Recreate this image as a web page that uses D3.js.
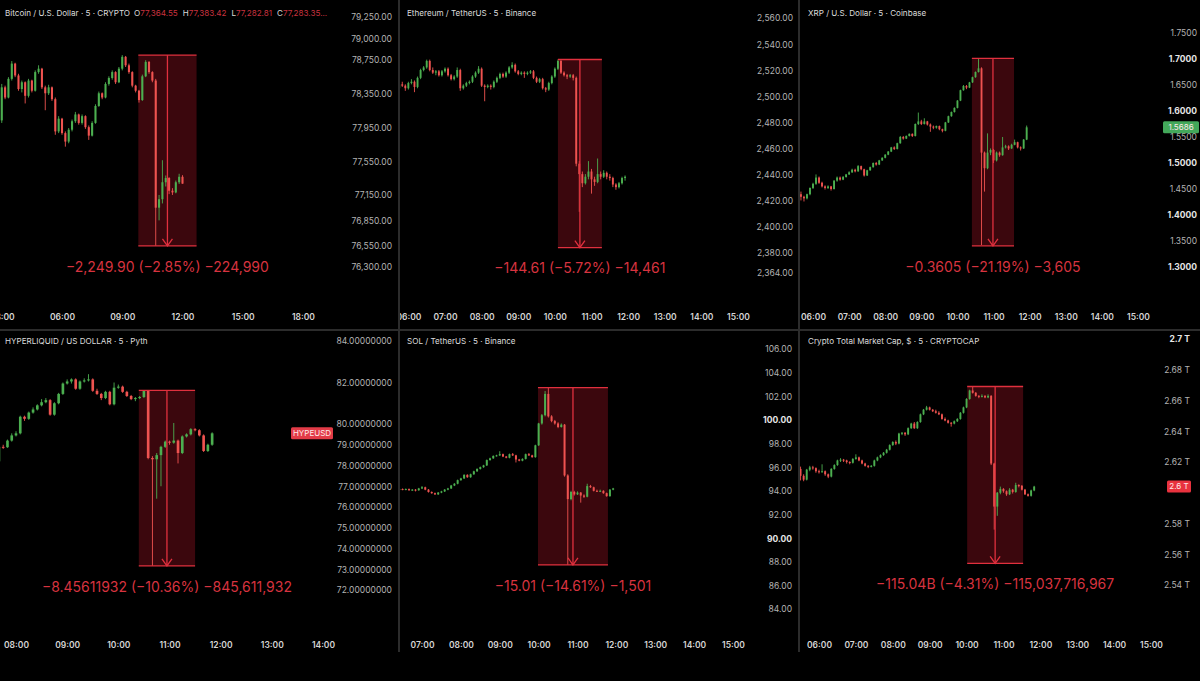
<!DOCTYPE html>
<html><head><meta charset="utf-8">
<script src="https://cdn.jsdelivr.net/npm/d3@7"></script>
<style>html,body{margin:0;padding:0;background:#000;overflow:hidden}svg{display:block}</style>
</head><body>
<script>
// ---------- DATA ----------
// candles: [open, high, low, close]
const btcTitle = "Bitcoin / U.S. Dollar · 5 · CRYPTO";
const btcStart = "03:00", btcStep = 10;
const btcCandles = [
[78030,78460,78000,78420],[78420,78440,78280,78300],[78300,78540,78290,78520],[78520,78730,78500,78700],
[78700,78710,78540,78560],[78560,78580,78380,78400],[78400,78500,78360,78480],[78480,78490,78230,78320],
[78320,78520,78300,78500],[78500,78510,78360,78380],[78380,78620,78370,78600],[78600,78680,78580,78640],
[78640,78650,78400,78420],[78420,78440,78150,78350],[78350,78450,78330,78420],[78420,78430,78260,78280],
[78280,78300,77860,77900],[77900,78080,77880,78050],[78050,78060,77860,77880],[77880,77900,77720,77780],
[77780,77940,77760,77920],[77920,78040,77900,78020],[78020,78130,78000,78100],[78100,78110,77980,78000],
[78000,78100,77980,78080],[78080,78090,77930,77950],[77950,77970,77800,77850],[77850,78020,77840,78000],
[78000,78220,77990,78200],[78200,78370,78190,78350],[78350,78360,78280,78300],[78300,78480,78290,78460],
[78460,78550,78440,78530],[78530,78620,78510,78600],[78600,78610,78460,78480],[78480,78660,78470,78640],
[78640,78800,78620,78780],[78780,78790,78660,78680],[78680,78700,78580,78600],[78600,78610,78420,78440],
[78440,78450,78360,78380],[78380,78390,78240,78270],[78270,78570,78260,78550],[78550,78740,78540,78720],
[78720,78730,78580,78600],[78600,78610,78480,78500],[78500,78520,76550,77000],[77000,77150,76850,77100],
[77100,77560,77050,77300],[77300,77380,77250,77350],[77350,77360,77160,77200],[77200,77230,77150,77180],
[77180,77320,77170,77300],[77300,77400,77280,77364.55],[77364.55,77383.42,77282.81,77283.35]];
const btcOHLC = ["77,364.55","77,383.42","77,282.81","77,283.35..."];
const btcYTicks = [79250,79000,78750,78350,77950,77550,77150,76850,76550,76300];
const btcXTicks = ["03:00","06:00","09:00","12:00","15:00","18:00"];
const btcRange = ["09:48","12:42",78800,76550.1];
const btcRangeLabel = "−2,249.90 (−2.85%) −224,990";

const ethTitle = "Ethereum / TetherUS · 5 · Binance";
const ethStart = "05:45", ethStep = 5;
const ethCandles = [
[2506,2510,2504,2509],[2509,2511,2507,2508],[2508,2509,2504,2506],[2506,2511,2505,2510],[2510,2513,2509,2511],
[2511,2512,2503,2507],[2507,2515,2506,2514],[2514,2521,2513,2520],[2520,2523,2519,2522],[2522,2528,2521,2527],
[2527,2528,2519,2520],[2520,2522,2517,2518],[2518,2520,2516,2519],[2519,2520,2515,2516],[2516,2520,2515,2519],
[2519,2522,2518,2521],[2521,2522,2515,2516],[2516,2517,2512,2513],[2513,2516,2512,2515],[2515,2522,2514,2520],
[2520,2521,2504,2506],[2506,2509,2505,2508],[2508,2511,2507,2510],[2510,2512,2509,2511],[2511,2516,2510,2515],
[2515,2519,2514,2518],[2518,2523,2517,2521],[2521,2522,2507,2508],[2508,2509,2496,2507],[2507,2509,2506,2508],
[2508,2509,2505,2507],[2507,2512,2506,2511],[2511,2515,2510,2514],[2514,2518,2513,2517],[2517,2518,2514,2515],
[2515,2519,2514,2518],[2518,2523,2517,2522],[2522,2526,2521,2524],[2524,2525,2518,2519],[2519,2520,2516,2517],
[2517,2519,2516,2518],[2518,2519,2514,2517],[2517,2519,2516,2518],[2518,2520,2517,2519],[2519,2520,2513,2514],
[2514,2515,2510,2511],[2511,2514,2510,2513],[2513,2514,2505,2506],[2506,2507,2503,2505],[2505,2511,2504,2510],
[2510,2516,2509,2515],[2515,2522,2514,2521],[2521,2528.1,2520,2527],[2527,2528,2517,2518],[2518,2519,2515,2516],
[2516,2517,2513,2515],[2515,2517,2514,2516],[2516,2517,2512,2514],[2514,2515,2446,2448],[2448,2450,2411,2440],
[2440,2442,2430,2433],[2433,2440,2432,2438],[2438,2450,2436,2442],[2442,2444,2425,2436],[2436,2438,2431,2434],
[2434,2452,2433,2440],[2440,2442,2436,2438],[2438,2443,2437,2441],[2441,2442,2436,2438],[2438,2440,2435,2437],
[2437,2438,2430,2432],[2432,2433,2428,2430],[2430,2434,2429,2433],[2433,2438,2432,2437],[2437,2439,2435,2438]];
const ethYTicks = [2560,2540,2520,2500,2480,2460,2440,2420,2400,2380,2364];
const ethXTicks = ["06:00","07:00","08:00","09:00","10:00","11:00","12:00","13:00","14:00","15:00"];
const ethRange = ["10:05","11:17",2528.1,2383.49];
const ethRangeLabel = "−144.61 (−5.72%) −14,461";

const xrpTitle = "XRP / U.S. Dollar · 5 · Coinbase";
const xrpStart = "05:40", xrpStep = 5;
const xrpCandles = [
[1.440,1.445,1.428,1.435],[1.435,1.437,1.426,1.432],[1.432,1.441,1.430,1.440],[1.440,1.453,1.438,1.452],
[1.452,1.462,1.450,1.460],[1.460,1.478,1.458,1.472],[1.472,1.474,1.460,1.462],[1.462,1.464,1.453,1.455],
[1.455,1.457,1.449,1.452],[1.452,1.457,1.450,1.455],[1.455,1.456,1.447,1.450],[1.450,1.467,1.449,1.466],
[1.466,1.474,1.464,1.472],[1.472,1.474,1.466,1.468],[1.468,1.475,1.467,1.473],[1.473,1.479,1.472,1.478],
[1.478,1.484,1.477,1.482],[1.482,1.489,1.481,1.487],[1.487,1.489,1.482,1.484],[1.484,1.496,1.483,1.494],
[1.494,1.495,1.486,1.488],[1.488,1.489,1.474,1.476],[1.476,1.487,1.475,1.486],[1.486,1.493,1.485,1.492],
[1.492,1.501,1.491,1.500],[1.500,1.502,1.495,1.497],[1.497,1.506,1.496,1.505],[1.505,1.511,1.504,1.510],
[1.510,1.517,1.509,1.516],[1.516,1.523,1.515,1.522],[1.522,1.531,1.521,1.530],[1.530,1.532,1.525,1.527],
[1.527,1.539,1.526,1.538],[1.538,1.552,1.537,1.550],[1.550,1.552,1.545,1.547],[1.547,1.553,1.546,1.552],
[1.552,1.557,1.551,1.556],[1.556,1.557,1.550,1.552],[1.552,1.576,1.551,1.575],[1.575,1.597,1.573,1.580],
[1.580,1.583,1.573,1.575],[1.575,1.586,1.574,1.580],[1.580,1.581,1.572,1.574],[1.574,1.576,1.560,1.570],
[1.570,1.572,1.565,1.568],[1.568,1.572,1.566,1.571],[1.571,1.572,1.563,1.565],[1.565,1.566,1.559,1.562],
[1.562,1.579,1.561,1.578],[1.578,1.591,1.577,1.590],[1.590,1.599,1.589,1.598],[1.598,1.607,1.597,1.606],
[1.606,1.621,1.605,1.620],[1.620,1.641,1.619,1.640],[1.640,1.650,1.639,1.648],[1.648,1.650,1.642,1.645],
[1.645,1.656,1.644,1.655],[1.655,1.666,1.654,1.665],[1.665,1.676,1.664,1.675],[1.675,1.7013,1.674,1.682],
[1.682,1.684,1.342,1.520],[1.520,1.522,1.445,1.490],[1.490,1.557,1.488,1.520],[1.520,1.528,1.515,1.525],
[1.525,1.527,1.500,1.505],[1.505,1.522,1.503,1.520],[1.520,1.522,1.512,1.515],[1.515,1.550,1.514,1.530],
[1.530,1.535,1.528,1.532],[1.532,1.534,1.525,1.528],[1.528,1.537,1.527,1.535],[1.535,1.545,1.534,1.540],
[1.540,1.541,1.528,1.530],[1.530,1.532,1.524,1.528],[1.528,1.546,1.527,1.545],[1.545,1.572,1.544,1.5686]];
const xrpYTicks = [1.75,1.70,1.65,1.60,1.55,1.50,1.45,1.40,1.35,1.30];
const xrpBold = [1.70,1.60,1.50,1.40,1.30];
const xrpXTicks = ["06:00","07:00","08:00","09:00","10:00","11:00","12:00","13:00","14:00","15:00"];
const xrpRange = ["10:24","11:34",1.7013,1.3408];
const xrpRangeLabel = "−0.3605 (−21.19%) −3,605";

const hypeTitle = "HYPERLIQUID / US DOLLAR · 5 · Pyth";
const hypeStart = "07:40", hypeStep = 5;
const hypeCandles = [
[78.20,78.95,77.60,78.90],[78.90,79.00,78.80,78.88],[78.88,79.25,78.85,79.20],[79.20,79.55,79.15,79.45],
[79.45,79.65,79.40,79.55],[79.55,80.40,79.50,80.35],[80.35,80.40,80.15,80.25],[80.25,80.60,80.20,80.55],
[80.55,80.80,80.50,80.70],[80.70,80.95,80.65,80.90],[80.90,81.20,80.85,81.05],[81.05,81.25,81.00,81.15],
[81.15,81.20,80.40,80.45],[80.45,81.05,80.40,81.00],[81.00,81.50,80.95,81.45],[81.45,82.00,81.40,81.95],
[81.95,82.15,81.90,82.05],[82.05,82.20,81.95,82.15],[82.15,82.20,81.65,81.70],[81.70,82.10,81.65,82.05],
[82.05,82.20,82.00,82.10],[82.10,82.40,82.05,82.15],[82.15,82.20,81.55,81.60],[81.60,81.70,81.40,81.45],
[81.45,81.50,81.15,81.25],[81.25,81.60,81.20,81.55],[81.55,81.60,80.90,80.95],[80.95,82.00,80.90,81.75],
[81.75,81.90,81.70,81.80],[81.80,81.85,81.50,81.55],[81.55,81.60,81.30,81.35],[81.35,81.40,81.15,81.20],
[81.20,81.30,81.10,81.25],[81.25,81.35,81.20,81.30],[81.30,81.62,81.25,81.60],[81.60,81.62,78.30,78.36],
[78.36,78.45,73.16,78.30],[78.30,78.60,76.40,78.50],[78.50,78.95,77.00,78.90],[78.90,79.20,78.85,79.15],
[79.15,79.20,79.00,79.10],[79.10,80.05,79.05,79.20],[79.20,79.25,78.10,78.60],[78.60,79.45,78.55,79.40],
[79.40,79.55,79.35,79.50],[79.50,79.80,79.45,79.75],[79.75,79.80,79.65,79.70],[79.70,79.75,79.40,79.45],
[79.45,79.50,78.65,78.70],[78.70,79.05,78.65,79.00],[79.00,79.60,78.95,79.55]];
const hypeYTicks = [84,82,80,79,78,77,76,75,74,73,72];
const hypeXTicks = ["08:00","09:00","10:00","11:00","12:00","13:00","14:00"];
const hypeRange = ["10:24","11:30",81.62,73.16388068];
const hypeRangeLabel = "−8.45611932 (−10.36%) −845,611,932";
const hypeTag = "HYPEUSD";

const solTitle = "SOL / TetherUS · 5 · Binance";
const solStart = "06:25", solStep = 5;
const solCandles = [
[94.10,94.20,94.00,94.15],[94.15,94.20,94.05,94.10],[94.10,94.20,94.05,94.15],[94.15,94.20,94.00,94.05],
[94.05,94.15,94.00,94.10],[94.10,94.15,93.95,94.05],[94.05,94.25,94.00,94.20],[94.20,94.40,94.15,94.30],
[94.30,94.35,94.05,94.10],[94.10,94.15,93.85,93.90],[93.90,93.95,93.75,93.80],[93.80,93.85,93.65,93.70],
[93.70,93.90,93.65,93.85],[93.85,94.00,93.80,93.95],[93.95,94.15,93.90,94.10],[94.10,94.25,94.05,94.20],
[94.20,94.50,94.15,94.45],[94.45,94.65,94.40,94.60],[94.60,94.95,94.55,94.90],[94.90,95.10,94.85,95.05],
[95.05,95.40,95.00,95.35],[95.35,95.40,95.10,95.15],[95.15,95.45,95.10,95.40],[95.40,95.70,95.35,95.65],
[95.65,95.90,95.60,95.85],[95.85,96.05,95.80,96.00],[96.00,96.20,95.95,96.15],[96.15,96.65,96.10,96.60],
[96.60,96.80,96.55,96.75],[96.75,97.00,96.70,96.95],[96.95,97.05,96.90,97.00],[97.00,97.35,96.95,97.10],
[97.10,97.15,96.85,96.90],[96.90,96.95,96.75,96.80],[96.80,97.15,96.75,97.10],[97.10,97.20,96.95,97.00],
[97.00,97.05,96.40,96.65],[96.65,96.70,96.50,96.55],[96.55,96.75,96.50,96.70],[96.70,97.15,96.65,97.10],
[97.10,97.20,96.95,97.00],[97.00,97.05,96.80,96.85],[96.85,97.90,96.80,97.85],[97.85,99.75,97.80,99.70],
[99.70,100.50,99.60,100.40],[100.40,102.45,100.30,102.20],[102.20,102.74,100.20,100.30],[100.30,100.40,99.80,99.90],
[99.90,100.00,99.60,99.70],[99.70,99.80,99.30,99.40],[99.40,99.70,99.35,99.60],[99.60,99.65,95.20,95.30],
[95.30,95.40,87.73,93.30],[93.30,94.00,93.20,93.90],[93.90,94.00,93.60,93.70],[93.70,93.95,93.65,93.85],
[93.85,93.90,93.00,93.60],[93.60,93.70,93.40,93.50],[93.50,94.60,93.45,94.40],[94.40,94.50,94.25,94.30],
[94.30,94.35,93.95,94.00],[94.00,94.10,93.90,93.95],[93.95,94.10,93.90,94.00],[94.00,94.05,93.75,93.80],
[93.80,93.85,93.50,93.55],[93.55,94.15,93.50,94.10],[94.10,94.25,94.05,94.20]];
const solYTicks = [106,104,102,100,98,96,94,92,90,88,86,84];
const solBold = [100,90];
const solXTicks = ["07:00","08:00","09:00","10:00","11:00","12:00","13:00","14:00","15:00"];
const solRange = ["09:59","11:47",102.74,87.73];
const solRangeLabel = "−15.01 (−14.61%) −1,501";

const capTitle = "Crypto Total Market Cap, $ · 5 · CRYPTOCAP";
const capStart = "05:30", capStep = 5;
// values in trillions of USD
const capCandles = [
[2.6155,2.6170,2.6080,2.6110],[2.6110,2.6120,2.6075,2.6085],[2.6085,2.6155,2.6080,2.6150],[2.6150,2.6175,2.6140,2.6165],
[2.6165,2.6175,2.6150,2.6160],[2.6160,2.6165,2.6130,2.6140],[2.6140,2.6150,2.6125,2.6135],[2.6135,2.6185,2.6130,2.6140],
[2.6140,2.6145,2.6110,2.6120],[2.6120,2.6125,2.6095,2.6105],[2.6105,2.6160,2.6100,2.6155],[2.6155,2.6185,2.6150,2.6180],
[2.6180,2.6215,2.6175,2.6210],[2.6210,2.6225,2.6200,2.6215],[2.6215,2.6220,2.6200,2.6210],[2.6210,2.6215,2.6190,2.6200],
[2.6200,2.6205,2.6185,2.6195],[2.6195,2.6225,2.6190,2.6220],[2.6220,2.6250,2.6215,2.6230],[2.6230,2.6235,2.6205,2.6210],
[2.6210,2.6215,2.6185,2.6190],[2.6190,2.6195,2.6170,2.6175],[2.6175,2.6180,2.6160,2.6170],[2.6170,2.6180,2.6165,2.6175],
[2.6175,2.6215,2.6170,2.6210],[2.6210,2.6235,2.6205,2.6230],[2.6230,2.6250,2.6225,2.6245],[2.6245,2.6265,2.6240,2.6260],
[2.6260,2.6285,2.6255,2.6280],[2.6280,2.6315,2.6275,2.6310],[2.6310,2.6335,2.6305,2.6330],[2.6330,2.6340,2.6310,2.6320],
[2.6320,2.6390,2.6315,2.6385],[2.6385,2.6395,2.6375,2.6390],[2.6390,2.6395,2.6370,2.6380],[2.6380,2.6425,2.6375,2.6420],
[2.6420,2.6455,2.6415,2.6450],[2.6450,2.6460,2.6415,2.6420],[2.6420,2.6465,2.6415,2.6460],[2.6460,2.6515,2.6455,2.6510],
[2.6510,2.6545,2.6505,2.6540],[2.6540,2.6565,2.6535,2.6555],[2.6555,2.6560,2.6535,2.6540],[2.6540,2.6545,2.6525,2.6530],
[2.6530,2.6540,2.6515,2.6520],[2.6520,2.6530,2.6505,2.6510],[2.6510,2.6515,2.6475,2.6480],[2.6480,2.6490,2.6465,2.6470],
[2.6470,2.6475,2.6450,2.6455],[2.6455,2.6460,2.6430,2.6450],[2.6450,2.6470,2.6445,2.6465],[2.6465,2.6485,2.6460,2.6480],
[2.6480,2.6525,2.6475,2.6520],[2.6520,2.6560,2.6515,2.6555],[2.6555,2.6615,2.6550,2.6610],[2.6610,2.6670,2.6605,2.6665],
[2.6665,2.6691,2.6645,2.6650],[2.6650,2.6655,2.6625,2.6630],[2.6630,2.6635,2.6615,2.6625],[2.6625,2.6640,2.6620,2.6630],
[2.6630,2.6635,2.6615,2.6620],[2.6620,2.6640,2.6615,2.6630],[2.6630,2.6635,2.6180,2.6190],[2.6190,2.6195,2.5760,2.5910],
[2.5910,2.6005,2.5850,2.6000],[2.6000,2.6040,2.5990,2.6025],[2.6025,2.6030,2.6000,2.6010],[2.6010,2.6015,2.5980,2.5990],
[2.5990,2.6030,2.5985,2.6020],[2.6020,2.6025,2.5995,2.6005],[2.6005,2.6065,2.6000,2.6050],[2.6050,2.6055,2.6035,2.6045],
[2.6045,2.6050,2.6015,2.6020],[2.6020,2.6025,2.5985,2.5990],[2.5990,2.5995,2.5975,2.5980],[2.5980,2.6020,2.5975,2.6015],
[2.6015,2.6045,2.6010,2.6040]];
const capYTicks = [2.70,2.68,2.66,2.64,2.62,2.58,2.56,2.54];
const capBold = [2.70];
const capXTicks = ["06:00","07:00","08:00","09:00","10:00","11:00","12:00","13:00","14:00","15:00"];
const capRange = ["10:01","11:32",2.6691,2.5541];
const capRangeLabel = "−115.04B (−4.31%) −115,037,716,967";
const capTag = "2.6 T";

// ---------- LAYOUT ----------
const W = 1200, H = 681;
const GREEN = "#4caf50", RED = "#ef5350";
const FONT = "Inter, 'Noto Sans', Roboto, sans-serif";
const hm = s => { const [h, m] = s.split(":").map(Number); return h + m / 60; };
const fmtHM = v => { const h = Math.floor(v + 1e-6), m = Math.round((v - h) * 60); return d3.format("02d")(h) + ":" + d3.format("02d")(m); };
const capFmt = v => (+v.toFixed(2)) + " T";

const panels = [
  {title: btcTitle, candles: btcCandles, start: btcStart, step: btcStep, yTicks: btcYTicks, bold: [], fmt: d3.format(",.2f"),
   xTicks: btcXTicks, range: btcRange, rangeLabel: btcRangeLabel,
   clip: [0, 0, 398, 329], xDom: [6, 18], xR: [62, 303], yR: [17, 267], axisX: 392, labelY: 317, titleXY: [5, 13]},
  {title: ethTitle, candles: ethCandles, start: ethStart, step: ethStep, yTicks: ethYTicks, bold: [], fmt: d3.format(",.2f"),
   xTicks: ethXTicks, range: ethRange, rangeLabel: ethRangeLabel,
   clip: [400, 0, 398, 329], xDom: [7, 15], xR: [445, 738], yR: [18, 273], axisX: 793, labelY: 317, titleXY: [407, 13]},
  {title: xrpTitle, candles: xrpCandles, start: xrpStart, step: xrpStep, yTicks: xrpYTicks, bold: xrpBold, fmt: d3.format(".4f"),
   xTicks: xrpXTicks, range: xrpRange, rangeLabel: xrpRangeLabel,
   clip: [800, 0, 400, 329], xDom: [6, 15], xR: [813, 1138], yR: [33, 267], axisX: 1197, labelY: 317, titleXY: [808, 13],
   tag: {text: d3.format(".4f")(xrpCandles[xrpCandles.length - 1][3]), fill: "#43a85a", x: 1163, w: 36}},
  {title: hypeTitle, candles: hypeCandles, start: hypeStart, step: hypeStep, yTicks: hypeYTicks, bold: [], fmt: d3.format(".8f"),
   xTicks: hypeXTicks, range: hypeRange, rangeLabel: hypeRangeLabel,
   clip: [0, 331, 398, 321], xDom: [8, 14], xR: [16, 323], yR: [341, 590], axisX: 392, labelY: 645, titleXY: [5, 341],
   tag: {text: hypeTag, fill: "#e23b47", x: 291, w: 42}},
  {title: solTitle, candles: solCandles, start: solStart, step: solStep, yTicks: solYTicks, bold: solBold, fmt: d3.format(".2f"),
   xTicks: solXTicks, range: solRange, rangeLabel: solRangeLabel,
   clip: [400, 331, 398, 321], xDom: [7, 15], xR: [422, 733], yR: [349, 609], axisX: 792, labelY: 645, titleXY: [407, 341]},
  {title: capTitle, candles: capCandles, start: capStart, step: capStep, yTicks: capYTicks, bold: capBold, fmt: capFmt,
   xTicks: capXTicks, range: capRange, rangeLabel: capRangeLabel,
   clip: [800, 331, 400, 321], xDom: [6, 15], xR: [819, 1151], yR: [339, 585], axisX: 1190, labelY: 645, titleXY: [808, 341],
   tag: {text: capTag, fill: "#e8323e", x: 1167, w: 24}}
];

const svg = d3.select("body").append("svg").attr("width", W).attr("height", H)
  .style("background", "#000").attr("font-family", FONT);
svg.append("rect").attr("width", W).attr("height", H).attr("fill", "#000");

const titleNodes = [];
panels.forEach((p, k) => {
  const [cx, cy, cw, ch] = p.clip;
  const clipId = "clip" + k;
  svg.append("clipPath").attr("id", clipId).append("rect").attr("x", cx).attr("y", cy).attr("width", cw).attr("height", ch);
  const g = svg.append("g").attr("clip-path", `url(#${clipId})`);

  const x = d3.scaleLinear().domain(p.xDom).range(p.xR);
  const y = d3.scaleLinear().domain([d3.max(p.yTicks), d3.min(p.yTicks)]).range(p.yR);
  const t0 = hm(p.start), dt = p.step / 60;
  const data = p.candles.map((d, i) => ({t: t0 + i * dt, o: d[0], h: d[1], l: d[2], c: d[3]}));
  const spacing = x(t0 + dt) - x(t0);
  const bodyW = Math.max(1.2, spacing * 0.62);

  // range box fill
  const r = p.range;
  const rx0 = x(hm(r[0])), rx1 = x(hm(r[1])), ryT = y(r[2]), ryB = y(r[3]);
  const rcx = (rx0 + rx1) / 2;
  g.append("rect").attr("x", rx0).attr("y", ryT).attr("width", rx1 - rx0).attr("height", ryB - ryT)
    .attr("fill", "#3b070d");

  // wicks
  g.append("g").selectAll("line").data(data).join("line")
    .attr("x1", d => x(d.t)).attr("x2", d => x(d.t))
    .attr("y1", d => y(d.h)).attr("y2", d => y(d.l))
    .attr("stroke", d => d.c >= d.o ? GREEN : RED).attr("stroke-width", 0.9);
  // bodies
  g.append("g").selectAll("rect").data(data).join("rect")
    .attr("x", d => x(d.t) - bodyW / 2).attr("width", bodyW)
    .attr("y", d => y(Math.max(d.o, d.c)))
    .attr("height", d => Math.max(1, Math.abs(y(d.o) - y(d.c))))
    .attr("fill", d => d.c >= d.o ? GREEN : RED);

  // range lines
  const LC = "#e0303e";
  g.append("line").attr("x1", rx0).attr("x2", rx1).attr("y1", ryT).attr("y2", ryT).attr("stroke", LC).attr("stroke-width", 1.3);
  g.append("line").attr("x1", rx0).attr("x2", rx1).attr("y1", ryB).attr("y2", ryB).attr("stroke", LC).attr("stroke-width", 1.3);
  g.append("line").attr("x1", rcx).attr("x2", rcx).attr("y1", ryT).attr("y2", ryB).attr("stroke", LC).attr("stroke-width", 1.3);
  g.append("path").attr("d", `M${rcx - 5},${ryB - 7}L${rcx},${ryB}L${rcx + 5},${ryB - 7}`)
    .attr("fill", "none").attr("stroke", LC).attr("stroke-width", 1.3);
  g.append("text").attr("x", rcx).attr("y", ryB + 22).attr("text-anchor", "middle").attr("dominant-baseline", "middle")
    .attr("font-size", 14).attr("fill", "#d7333f").text(p.rangeLabel);

  // y axis
  const ya = d3.axisLeft(y).tickValues(p.yTicks).tickFormat(p.fmt).tickSize(0).tickPadding(0);
  const yg = svg.append("g").attr("transform", `translate(${p.axisX},0)`).call(ya)
    .attr("font-family", FONT).attr("font-size", 8.5);
  yg.select(".domain").remove();
  yg.selectAll("text").attr("dy", "0.35em")
    .attr("fill", d => p.bold.some(b => Math.abs(b - d) < 1e-9) ? "#e6e6e6" : "#b3b3b3")
    .attr("font-weight", d => p.bold.some(b => Math.abs(b - d) < 1e-9) ? 700 : 400);

  // price tag
  if (p.tag) {
    const last = data[data.length - 1];
    const ty = y(last.c);
    svg.append("rect").attr("x", p.tag.x).attr("y", ty - 6).attr("width", p.tag.w).attr("height", 12)
      .attr("rx", 1.5).attr("fill", p.tag.fill);
    svg.append("text").attr("x", p.tag.x + p.tag.w / 2).attr("y", ty).attr("dy", "0.35em")
      .attr("text-anchor", "middle").attr("font-size", 8).attr("fill", "#ffe9ea").text(p.tag.text);
  }

  // x axis (clip in outer group, transform in inner group)
  const xa = d3.axisBottom(x).tickValues(p.xTicks.map(hm)).tickFormat(fmtHM).tickSize(0).tickPadding(0);
  const xOuter = svg.append("g").attr("clip-path", `url(#${clipId})`);
  const xg = xOuter.append("g").attr("transform", `translate(0,${p.labelY})`).call(xa)
    .attr("font-family", FONT).attr("font-size", 8.5);
  xg.select(".domain").remove();
  xg.selectAll("text").attr("dy", "0.35em").attr("y", 0).attr("fill", "#d6d6d6").attr("font-weight", 600);

  // title
  const tn = svg.append("text").attr("x", p.titleXY[0]).attr("y", p.titleXY[1]).attr("dy", "0.35em")
    .attr("font-size", 8.1).attr("fill", "#dcdcdc").text(p.title);
  titleNodes.push(tn);
});

// BTC OHLC legend, placed right after the title
const tEnd = titleNodes[0].node().getBBox();
const leg = svg.append("text").attr("x", tEnd.x + tEnd.width + 4).attr("y", 13).attr("dy", "0.35em").attr("font-size", 8.1);
["O", "H", "L", "C"].forEach((k, i) => {
  leg.append("tspan").attr("fill", "#dcdcdc").attr("dx", i ? 5 : 0).text(k);
  leg.append("tspan").attr("fill", "#c8323f").text(btcOHLC[i]);
});

// separators
const SEP = "#2c2c2c";
svg.append("rect").attr("x", 398).attr("y", 0).attr("width", 2).attr("height", 652).attr("fill", SEP);
svg.append("rect").attr("x", 798).attr("y", 0).attr("width", 2).attr("height", 652).attr("fill", SEP);
svg.append("rect").attr("x", 0).attr("y", 329).attr("width", W).attr("height", 2).attr("fill", SEP);
</script>
</body></html>
